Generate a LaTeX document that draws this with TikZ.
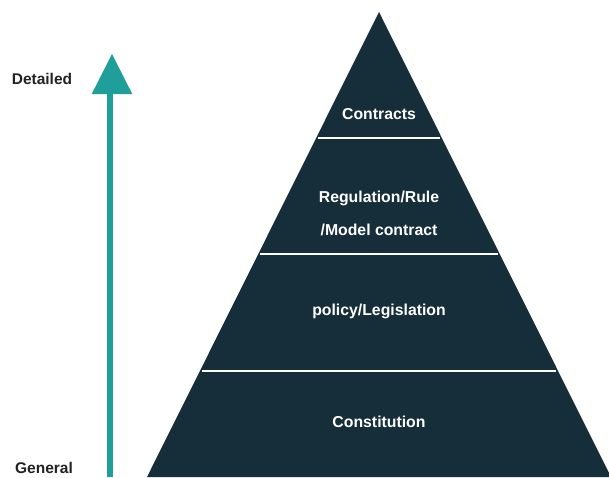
\documentclass[tikz,border=0pt]{standalone}
\usepackage{fontspec}
\setmainfont{Liberation Sans}
\definecolor{pyr}{RGB}{22,45,58}
\definecolor{teal}{RGB}{31,158,154}
\definecolor{labgray}{RGB}{34,34,34}
\begin{document}
\begin{tikzpicture}[x=1pt,y=-1pt,
  bandtext/.style={text=white,font=\fontsize{15.8}{18}\selectfont\bfseries,inner sep=0pt},
  sidetext/.style={text=labgray,font=\fontsize{15.5}{18}\selectfont\bfseries,inner sep=0pt},
  sep/.style={draw=white,line width=2pt}]
\useasboundingbox (0,0) rectangle (609,477);
\clip (0,0) rectangle (609,477);
\fill[white] (0,0) rectangle (609,477);
% pyramid
\fill[pyr] (379,12) -- (611,477) -- (147,477) -- cycle;
% separators
\foreach \yy in {138,253.5,370.5}{
  \pgfmathsetmacro{\hw}{(\yy-12)*0.499-2}
  \draw[sep] ({379-\hw},\yy) -- ({379+\hw},\yy);
}
% arrow
\fill[teal] (106.8,477) rectangle (113.2,93);
\fill[teal] (112,54) -- (132.3,94) -- (91.7,94) -- cycle;
% labels
\node[bandtext] (contracts) at (379,114) {Contracts};
\node[bandtext] (reg1) at (379,198.5) {Regulation/Rule};
\node[bandtext] (reg2) at (379,229.5) {/Model contract};
\node[bandtext] (policy) at (379,311.5) {policy/Legislation};
\node[bandtext] (const) at (379,422) {Constitution};
\node[sidetext] (detailed) at (42,79) {Detailed};
\node[sidetext] (general) at (44,467.5) {General};
\end{tikzpicture}
\end{document}
